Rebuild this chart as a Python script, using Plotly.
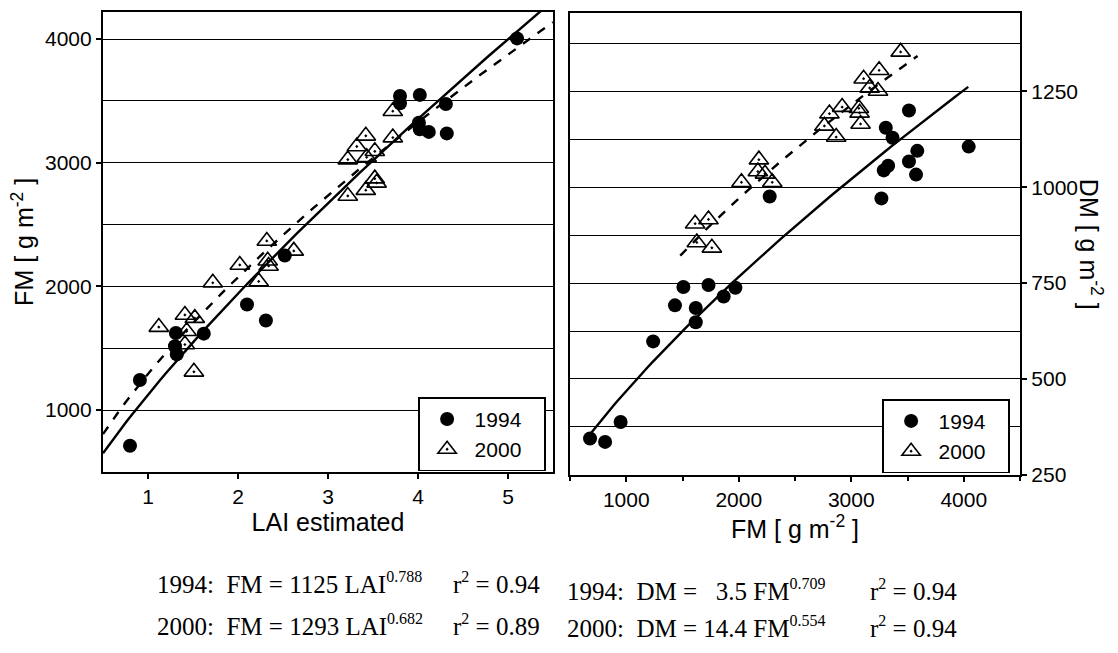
import plotly.graph_objects as go

# ---------------- data ----------------
# Left panel: FM vs LAI
lai_1994 = [5.10, 3.80, 3.80, 4.02, 4.31, 4.01, 4.02, 4.12, 4.32, 2.52, 2.10, 2.31, 1.62, 1.31, 1.30, 1.32, 0.91, 0.80]
fm_1994 = [4005, 3540, 3480, 3548, 3474, 3323, 3270, 3249, 3237, 2250, 1854, 1724, 1618, 1623, 1516, 1450, 1243, 712]
lai_2000 = [3.72, 3.42, 3.72, 3.32, 3.52, 3.43, 3.22, 3.52, 3.54, 3.42, 3.22, 2.32, 2.62, 2.02, 2.33, 2.34,
            2.23, 1.72, 1.12, 1.41, 1.52, 1.43, 1.41, 1.51]
fm_2000 = [3416, 3217, 3203, 3131, 3092, 3044, 3025, 2871, 2837, 2778, 2731, 2367, 2287, 2173, 2207, 2165,
           2040, 2029, 1671, 1769, 1743, 1637, 1530, 1309]

# Right panel: DM vs FM
fmr_1994 = [3513, 3307, 3367, 3587, 4044, 3513, 3328, 3289, 3576, 3268, 2275, 1508, 1731, 1970, 1866, 1433,
            1618, 1618, 1239, 950, 678, 812]
dm_1994 = [1200, 1155, 1129, 1095, 1106, 1067, 1056, 1044, 1033, 971, 976, 740, 745, 738, 715, 692,
           685, 648, 598, 388, 345, 336]
fmr_2000 = [3439, 3248, 3110, 3164, 3238, 2919, 2806, 3068, 3074, 3083, 2761, 2866, 2179, 2170, 2233, 2298,
            2024, 1612, 1731, 1627, 1761]
dm_2000 = [1353, 1305, 1283, 1259, 1251, 1209, 1192, 1206, 1194, 1165, 1160, 1131, 1072, 1041, 1035, 1013,
           1013, 905, 916, 856, 842]

# Fit equations printed under the panels: (coefficient, exponent, x start, x end)
fit_left = {"1994": (1125, 0.788, 0.5, 5.5), "2000": (1293, 0.682, 0.5, 5.5)}
fit_right = {"1994": (3.5, 0.709, 680, 4040), "2000": (14.4, 0.554, 1480, 3590)}

years = ["1994", "2000"]
SUPS = "<sup><span style='font-size:16px'>{}</span></sup>"
eq_left = ["1994:  FM = 1125 LAI" + SUPS.format("0.788"), "2000:  FM = 1293 LAI" + SUPS.format("0.682")]
eq_right = ["1994:  DM =   3.5 FM" + SUPS.format("0.709"), "2000:  DM = 14.4 FM" + SUPS.format("0.554")]
R2 = "r<sup><span style='font-size:16px'>2</span></sup> = {}"
r2_left = [R2.format("0.94"), R2.format("0.89")]
r2_right = [R2.format("0.94"), R2.format("0.94")]


def curve(a, b, x0, x1, n=80):
    xs = [x0 + (x1 - x0) * i / (n - 1) for i in range(n)]
    return xs, [a * x ** b for x in xs]


fig = go.Figure()

SANS = "Liberation Sans, Arial, sans-serif"
SERIF = "Liberation Serif, Times New Roman, serif"

circle = dict(symbol="circle", size=14, color="black")
tri = dict(symbol="triangle-up-open-dot", size=17, color="black", line=dict(color="black", width=1.6))
PAD = "\u00a0\u00a0\u00a0"  # trailing padding so the legend box is as wide as the original

# left panel
fig.add_trace(go.Scatter(x=lai_1994, y=fm_1994, mode="markers", marker=circle, name=years[0] + PAD,
                         xaxis="x", yaxis="y", legend="legend"))
fig.add_trace(go.Scatter(x=lai_2000, y=fm_2000, mode="markers", marker=tri, name=years[1] + PAD,
                         xaxis="x", yaxis="y", legend="legend"))
for yr, dash in zip(years, ["solid", "dash"]):
    a, b, x0, x1 = fit_left[yr]
    xs, ys = curve(a, b, x0, x1)
    fig.add_trace(go.Scatter(x=xs, y=ys, mode="lines", line=dict(color="black", width=2.4, dash=dash),
                             showlegend=False, xaxis="x", yaxis="y", hoverinfo="skip"))

# right panel
fig.add_trace(go.Scatter(x=fmr_1994, y=dm_1994, mode="markers", marker=circle, name=years[0] + PAD,
                         xaxis="x2", yaxis="y2", legend="legend2"))
fig.add_trace(go.Scatter(x=fmr_2000, y=dm_2000, mode="markers", marker=tri, name=years[1] + PAD,
                         xaxis="x2", yaxis="y2", legend="legend2"))
for yr, dash in zip(years, ["solid", "dash"]):
    a, b, x0, x1 = fit_right[yr]
    xs, ys = curve(a, b, x0, x1)
    fig.add_trace(go.Scatter(x=xs, y=ys, mode="lines", line=dict(color="black", width=2.4, dash=dash),
                             showlegend=False, xaxis="x2", yaxis="y2", hoverinfo="skip"))

W, H = 1118, 653
def px(x):
    return x / W
def py(y):
    return 1 - y / H

axis_common = dict(showline=True, linecolor="black", linewidth=2.2, mirror=True,
                   ticks="outside", tickcolor="black", ticklen=5, tickwidth=2,
                   tickfont=dict(family=SANS, size=21, color="black"), zeroline=False)
title_font = dict(family=SANS, size=25, color="black")
legend_font = dict(family=SANS, size=21, color="black")

fig.update_layout(
    width=W, height=H,
    margin=dict(l=0, r=0, t=0, b=0),
    paper_bgcolor="white", plot_bgcolor="white",
    xaxis=dict(domain=[px(103), px(553)], range=[0.5, 5.5], dtick=1, tick0=0, showgrid=False,
               title=dict(text="LAI estimated", font=title_font, standoff=0),
               anchor="y", **axis_common),
    yaxis=dict(domain=[py(480), py(12)], range=[500, 4220], dtick=1000, tick0=0,
               showgrid=True, gridcolor="black", gridwidth=1.3,
               minor=dict(dtick=500, tick0=0, showgrid=True, gridcolor="black", gridwidth=1.3, ticks=""),
               title=dict(text="FM [ g m<sup>-2</sup> ]", font=title_font, standoff=4),
               anchor="x", **axis_common),
    xaxis2=dict(domain=[px(570), px(1020)], range=[500, 4500], dtick=1000, tick0=0, showgrid=False,
                minor=dict(dtick=500, tick0=0, ticks="outside", ticklen=4, tickcolor="black", showgrid=False),
                title=dict(text="FM [ g m<sup>-2</sup> ]", font=title_font, standoff=0),
                anchor="y2", **axis_common),
    yaxis2=dict(domain=[py(483), py(13)], range=[250, 1455], dtick=250, tick0=0, side="right",
                showgrid=True, gridcolor="black", gridwidth=1.3,
                minor=dict(dtick=125, tick0=0, showgrid=True, gridcolor="black", gridwidth=1.3, ticks=""),
                anchor="x2", **axis_common),
    legend=dict(x=px(418), y=py(404), xanchor="left", yanchor="top",
                bgcolor="white", bordercolor="black", borderwidth=1.6,
                font=legend_font, itemwidth=45, tracegroupgap=0),
    legend2=dict(x=px(882), y=py(406), xanchor="left", yanchor="top",
                 bgcolor="white", bordercolor="black", borderwidth=1.6,
                 font=legend_font, itemwidth=45, tracegroupgap=0),
    showlegend=True,
)

ann = []
ann.append(dict(x=px(1091), y=py(248), xref="paper", yref="paper", text="DM [ g m<sup>-2</sup> ]",
                textangle=90, showarrow=False, xanchor="center", yanchor="middle", font=title_font))
eq_font = dict(family=SERIF, size=25, color="black")
rows_left = [593, 636]
rows_right = [600, 638]
for i in range(2):
    ann.append(dict(x=px(155), y=py(rows_left[i]), xref="paper", yref="paper", text=eq_left[i], showarrow=False,
                    xanchor="left", yanchor="middle", font=eq_font))
    ann.append(dict(x=px(451), y=py(rows_left[i]), xref="paper", yref="paper", text=r2_left[i], showarrow=False,
                    xanchor="left", yanchor="middle", font=eq_font))
    ann.append(dict(x=px(565), y=py(rows_right[i]), xref="paper", yref="paper", text=eq_right[i], showarrow=False,
                    xanchor="left", yanchor="middle", font=eq_font))
    ann.append(dict(x=px(868), y=py(rows_right[i]), xref="paper", yref="paper", text=r2_right[i], showarrow=False,
                    xanchor="left", yanchor="middle", font=eq_font))
fig.update_layout(annotations=ann)

fig.write_html("out.html", config={"displayModeBar": False},
               post_script="document.body.style.margin='0px';")
